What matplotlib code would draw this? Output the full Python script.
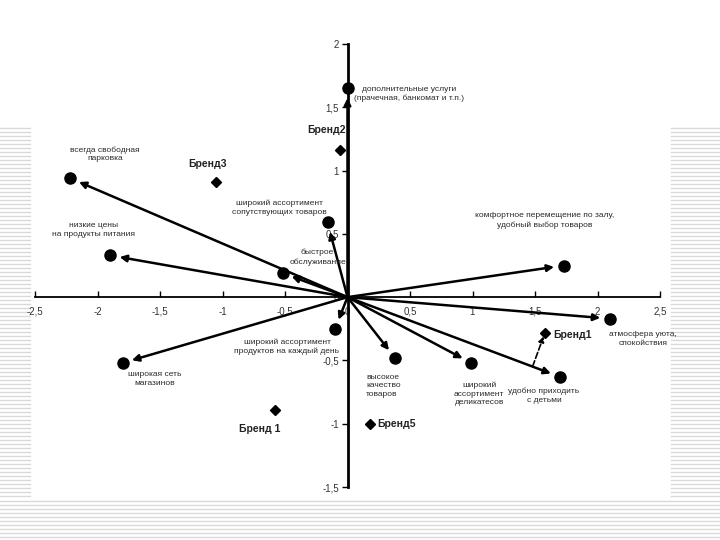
import numpy as np
import matplotlib
matplotlib.use("Agg")
import matplotlib.pyplot as plt
from matplotlib.lines import Line2D
from matplotlib.ticker import FuncFormatter

plt.rcParams['font.family'] = ['Liberation Sans', 'DejaVu Sans']

# атрибуты (векторы)
attr_names = [
    "дополнительные услуги\n(прачечная, банкомат и т.п.)",
    "всегда свободная\nпарковка",
    "низкие цены\nна продукты питания",
    "широкий ассортимент\nсопутствующих товаров",
    "быстрое\nобслуживание",
    "комфортное перемещение по залу,\nудобный выбор товаров",
    "атмосфера уюта,\nспокойствия",
    "широкая сеть\nмагазинов",
    "широкий ассортимент\nпродуктов на каждый день",
    "высокое\nкачество\nтоваров",
    "широкий\nассортимент\nделикатесов",
    "удобно приходить\nс детьми",
]
attr_x = [0.0, -2.22, -1.90, -0.16, -0.52, 1.73, 2.10, -1.80, -0.10, 0.38, 0.99, 1.70]
attr_y = [1.65, 0.94, 0.33, 0.59, 0.19, 0.25, -0.17, -0.52, -0.25, -0.48, -0.52, -0.63]

# бренды
brand_names = ["Бренд2", "Бренд3", "Бренд 1", "Бренд1", "Бренд5"]
brand_x = [-0.06, -1.05, -0.58, 1.58, 0.18]
brand_y = [1.16, 0.91, -0.89, -0.28, -1.00]

xticks = [-2.5, -2, -1.5, -1, -0.5, 0, 0.5, 1, 1.5, 2, 2.5]
yticks = [-1.5, -1, -0.5, 0, 0.5, 1, 1.5, 2]

# подписи: (dx, dy) смещение в пикселях, выравнивание
attr_off = [(62, -6, 'center'), (35, 24, 'center'), (-16, 25, 'center'),
            (-48, 15, 'center'), (35, 16, 'center'), (-19, 45, 'center'),
            (33, -20, 'center'), (32, -16, 'center'), (-48, -18, 'center'),
            (-29, -28, 'left'), (8, -31, 'center'), (-16, -19, 'center')]
brand_off = [(-13, 20, 'center'), (-9, 18, 'center'), (-15, -19, 'center'),
             (8, -2, 'left'), (7, 0, 'left')]

fig = plt.figure(figsize=(7.2, 5.4), dpi=100)

# фон слайда (полосы)
W, H = 720.0, 540.0
def stripes(x0, x1, y0, y1):
    for yy in np.arange(y0, y1, 4):
        fig.add_artist(Line2D([x0 / W, x1 / W], [1 - yy / H, 1 - yy / H],
                              color="#d9d9d9", lw=1.0, zorder=0))
stripes(0, 30, 128, 500)
stripes(671, 720, 128, 500)
stripes(0, 720, 501, 540)

ax = fig.add_axes([35 / W, 1 - 487 / H, 625 / W, 443 / H])
ax.set_xlim(-2.5, 2.5)
ax.set_ylim(-1.5, 2.0)

for s in ['top', 'right']:
    ax.spines[s].set_visible(False)
ax.spines['left'].set_position(('data', 0))
ax.spines['bottom'].set_position(('data', 0))
ax.spines['left'].set_linewidth(2.0)
ax.spines['bottom'].set_linewidth(1.3)

fmt = FuncFormatter(lambda v, p: ("%g" % v).replace(".", ","))
ax.set_xticks(xticks)
ax.set_yticks(yticks)
ax.xaxis.set_major_formatter(fmt)
ax.yaxis.set_major_formatter(fmt)
ax.tick_params(axis='x', direction='in', length=4, width=1, labelsize=7,
               labelcolor='#333333', pad=7)
ax.tick_params(axis='y', direction='out', length=4, width=1, labelsize=7,
               labelcolor='#333333', pad=2)

for i in range(len(attr_x)):
    ax.annotate("", xy=(attr_x[i], attr_y[i]), xytext=(0, 0),
                arrowprops=dict(arrowstyle='-|>', color='black', lw=1.8,
                                mutation_scale=10, shrinkA=0, shrinkB=7))
    ax.plot(attr_x[i], attr_y[i], 'o', color='black', markersize=8, zorder=5)
    dx, dy, ha = attr_off[i]
    ax.annotate(attr_names[i], (attr_x[i], attr_y[i]), xytext=(dx * 0.72, dy * 0.72),
                textcoords='offset points', ha=ha, va='center', fontsize=6.0,
                color='#2a2a2a', linespacing=1.35)

for i in range(len(brand_x)):
    ax.plot(brand_x[i], brand_y[i], 'D', color='black', markersize=5, zorder=5)
    dx, dy, ha = brand_off[i]
    ax.annotate(brand_names[i], (brand_x[i], brand_y[i]), xytext=(dx * 0.72, dy * 0.72),
                textcoords='offset points', ha=ha, va='center', fontsize=7.5,
                fontweight='bold', color='#222222')

# проекция Бренд1 на вектор "удобно приходить с детьми"
v = np.array([attr_x[11], attr_y[11]])
b = np.array([brand_x[3], brand_y[3]])
p = v * np.dot(b, v) / np.dot(v, v)
ax.annotate("", xy=b, xytext=p,
            arrowprops=dict(arrowstyle='-|>', color='black', lw=1.2, ls='--',
                            mutation_scale=8, shrinkA=0, shrinkB=3))

fig.savefig("out.png", dpi=100)
